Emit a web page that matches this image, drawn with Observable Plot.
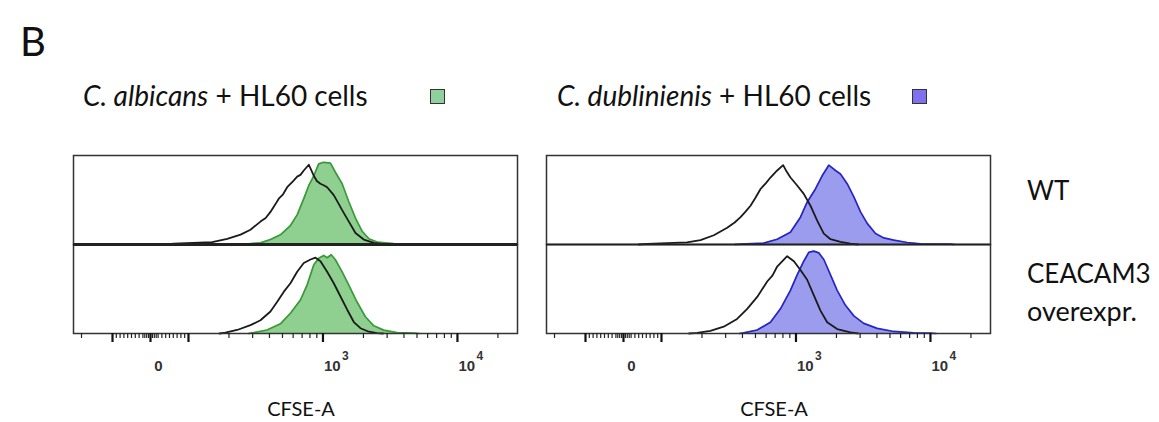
<!DOCTYPE html>
<html>
<head>
<meta charset="utf-8">
<script src="https://cdn.jsdelivr.net/npm/d3@7"></script>
<script src="https://cdn.jsdelivr.net/npm/@observablehq/plot@0.6"></script>
<style>
  html, body { margin: 0; padding: 0; background: #fff; }
  #root { position: relative; width: 1159px; height: 422px; background: #fff; overflow: hidden; font-family: Lato, "Open Sans", sans-serif; color: #111; }
  .abs { position: absolute; line-height: 1; white-space: nowrap; }
  .sq { position: absolute; width: 13px; height: 13px; border: 1.5px solid #333; }
  .plotbox { position: absolute; top: 145px; }
</style>
</head>
<body>
<div id="root"></div>
<script>
// ---------- data (CFSE-A value, % of max row height) ----------
const rows = ["WT", "CEACAM3"];
const rowLabels = [["WT"], ["CEACAM3", "overexpr."]];
const panelTitles = [["C. albicans", " + HL60 cells"], ["C. dublinienis", " + HL60 cells"]];
const axisTitle = "CFSE-A";

const albicansWTControl = [[40,0],[61,0.9],[150,2.8],[194,6.5],[244,11.2],[289,16.8],[343,26],[375,30],[407,37],[440,45],[469,52],[505,57],[542,65],[600,72],[643,77],[680,79],[720,84],[785,90.5],[820,84],[855,78],[900,72],[958,69],[1020,67],[1074,65],[1203,56],[1300,47],[1389,39],[1557,26],[1745,13],[2010,5.6],[2388,1.9],[2832,0.5],[3200,0]];
const albicansWTSample = [[260,0],[289,0.9],[343,1.9],[407,5.6],[483,11],[573,21.5],[643,33.6],[720,52],[785,67],[855,78],[930,91.5],[1014,93.3],[1137,92.4],[1237,82],[1389,69],[1557,48.5],[1745,30],[1958,15],[2196,6.5],[2525,2.8],[3362,0.9],[5337,0.7],[6000,0]];
const albicansCEAControl = [[170,0],[188,1],[230,4],[289,9.5],[343,15],[407,25],[457,36],[512,47.5],[573,57],[643,70],[720,80],[808,84],[880,86],[958,82],[1074,70],[1203,57],[1350,42],[1514,27],[1696,13],[1900,6],[2196,2],[2525,0.4],[2800,0]];
const albicansCEASample = [[280,0],[306,1],[384,4],[483,11],[573,23],[680,38],[762,55],[855,78],[930,85.5],[1014,88.6],[1074,86],[1152,89.4],[1237,83.7],[1389,70],[1557,55],[1788,36],[2068,19],[2388,8.7],[2832,3.8],[3554,1],[4726,0.4],[5200,0]];

const dubliniensisWTControl = [[40,0],[62,0.8],[155,2.3],[195,5],[245,10.5],[308,19],[350,25],[387,31],[420,37],[459,44],[500,53],[545,63],[600,70],[646,76],[725,84],[803,90],[850,83],[910,76],[1021,67],[1143,57.5],[1282,44],[1438,27],[1611,12.4],[1806,6],[2143,3],[2543,1.1],[2900,0]];
const dubliniensisWTSample = [[350,0],[387,0.4],[576,1.5],[725,6],[910,14],[1080,31],[1211,48],[1396,63],[1566,78],[1755,90],[1968,84],[2143,80],[2403,69],[2694,54],[3020,37],[3386,24],[3902,12.4],[4500,7.5],[5340,5],[6711,2.3],[8433,0.8],[14090,0.4],[15000,0]];
const dubliniensisCEAControl = [[160,0],[184,0.8],[231,3],[290,7.7],[365,16.5],[434,28],[515,41.5],[611,59],[670,66],[725,76],[860,87.7],[965,82],[1080,72],[1211,61],[1356,43.5],[1521,26],[1706,12.7],[2024,5],[2543,1.2],[2900,0]];
const dubliniensisCEASample = [[380,0],[409,0.8],[515,4],[646,12.7],[767,28],[910,49],[1021,66.5],[1143,82],[1245,92],[1356,93.5],[1478,91.5],[1611,84],[1806,66.5],[2024,49],[2333,32],[2694,20],[3192,11.5],[4018,5.8],[5340,2.3],[7509,0.8],[10000,0.4],[11000,0]];

const majorTicks = [-100, 0, 100, 1000, 10000];
const minorTicks = [-170, -90, -80, -70, -60, -50, -40, -30, -20, -15, -10, -5, 5, 10, 15, 20, 30, 40, 50, 60, 70, 80, 90,
  200, 300, 400, 500, 600, 700, 800, 900, 2000, 3000, 4000, 5000, 6000, 7000, 8000, 9000, 20000];
const zeroLabel = [{v: 0, text: "0"}];
const powerLabels = [{v: 1000, base: "10", exp: "3"}, {v: 10000, base: "10", exp: "4"}];

const panelColors = [
  {fill: "#8fcf8f", stroke: "#3a9a3a", legend: "#8fd19e"},
  {fill: "#9c9cee", stroke: "#2626c4", legend: "#8070ee"}
];

// ---------- biexponential-like display transform ----------
const LIN = 0.2825; // decades used by the linear region -100..100
function tx(v) {
  if (Math.abs(v) <= 100) return v / 100 * LIN;
  return Math.sign(v) * (LIN + Math.log10(Math.abs(v) / 100));
}

function pts(arr, row) { return arr.map(([v, c]) => ({cfse: v, count: c, row})); }

function panel(controlWT, sampleWT, controlCEA, sampleCEA, colors, thickMiddle) {
  const sample = [...pts(sampleWT, "WT"), ...pts(sampleCEA, "CEACAM3")];
  const control = [...pts(controlWT, "WT"), ...pts(controlCEA, "CEACAM3")];
  const zero = zeroLabel.map(d => ({...d, row: "CEACAM3"}));
  const powers = powerLabels.map(d => ({...d, row: "CEACAM3"}));
  const labelFont = {fontFamily: "Liberation Sans, Arial, sans-serif", fontWeight: "bold", fill: "#333",
    frameAnchor: "bottom", lineAnchor: "bottom", fy: "row"};
  return Plot.plot({
    width: 560, height: 240,
    marginLeft: 73, marginRight: 43, marginTop: 10, marginBottom: 52,
    style: {background: "none", overflow: "visible"},
    x: {domain: [-0.5725, 2.729]},
    y: {domain: [0, 101], axis: null},
    fy: {domain: rows, padding: 0, axis: null},
    marks: [
      Plot.areaY(sample, {x: d => tx(d.cfse), y: "count", fy: "row", z: "row", fill: colors.fill}),
      Plot.lineY(sample, {x: d => tx(d.cfse), y: "count", fy: "row", z: "row", stroke: colors.stroke, strokeWidth: 1.7}),
      Plot.lineY(control, {x: d => tx(d.cfse), y: "count", fy: "row", z: "row", stroke: "#1a1a1a", strokeWidth: 1.8}),
      Plot.frame({stroke: "#333", strokeWidth: 1.5}),
      Plot.ruleY([{row: "WT"}], {y: 0, fy: "row", stroke: "#222", strokeWidth: thickMiddle ? 3 : 1.5}),
      Plot.axisX({ticks: minorTicks.map(tx), tickSize: 5, tickFormat: () => "", label: null, stroke: "#222", strokeWidth: 1.2}),
      Plot.axisX({ticks: majorTicks.map(tx), tickSize: 9, tickFormat: () => "", label: null, stroke: "#111", strokeWidth: 2.2}),
      Plot.text(zero, {x: d => tx(d.v), text: "text", dy: 37, dx: 8, textAnchor: "middle", fontSize: 15, ...labelFont}),
      Plot.text(powers, {x: d => tx(d.v), text: "base", dy: 37, dx: 1, textAnchor: "start", fontSize: 15, ...labelFont}),
      Plot.text(powers, {x: d => tx(d.v), text: "exp", dy: 26, dx: 19, textAnchor: "start", fontSize: 12, ...labelFont})
    ]
  });
}

const root = document.getElementById("root");
function addText(html, left, top, size, extra = "") {
  const d = document.createElement("div");
  d.className = "abs";
  d.style.cssText = `left:${left}px;top:${top}px;font-size:${size}px;${extra}`;
  d.innerHTML = html;
  root.appendChild(d);
  return d;
}

addText("B", 20, 21, 40);
addText(`<i>${panelTitles[0][0]}</i>${panelTitles[0][1]}`, 83, 81, 28);
addText(`<i>${panelTitles[1][0]}</i>${panelTitles[1][1]}`, 557, 81, 28);
const sq1 = document.createElement("div"); sq1.className = "sq";
sq1.style.cssText = `left:430px;top:89px;background:${panelColors[0].legend}`; root.appendChild(sq1);
const sq2 = document.createElement("div"); sq2.className = "sq";
sq2.style.cssText = `left:912px;top:89px;background:${panelColors[1].legend}`; root.appendChild(sq2);

addText(rowLabels[0][0], 1027, 177, 26);
addText(rowLabels[1][0], 1027, 260, 26);
addText(rowLabels[1][1], 1027, 297, 27);

addText(axisTitle, 201, 398, 20, "width:200px;text-align:center;");
addText(axisTitle, 674, 398, 20, "width:200px;text-align:center;");

const p1 = panel(albicansWTControl, albicansWTSample, albicansCEAControl, albicansCEASample, panelColors[0], true);
const p2 = panel(dubliniensisWTControl, dubliniensisWTSample, dubliniensisCEAControl, dubliniensisCEASample, panelColors[1], false);
const b1 = document.createElement("div"); b1.className = "plotbox"; b1.style.left = "0px"; b1.appendChild(p1); root.appendChild(b1);
const b2 = document.createElement("div"); b2.className = "plotbox"; b2.style.left = "473px"; b2.appendChild(p2); root.appendChild(b2);
</script>
</body>
</html>
